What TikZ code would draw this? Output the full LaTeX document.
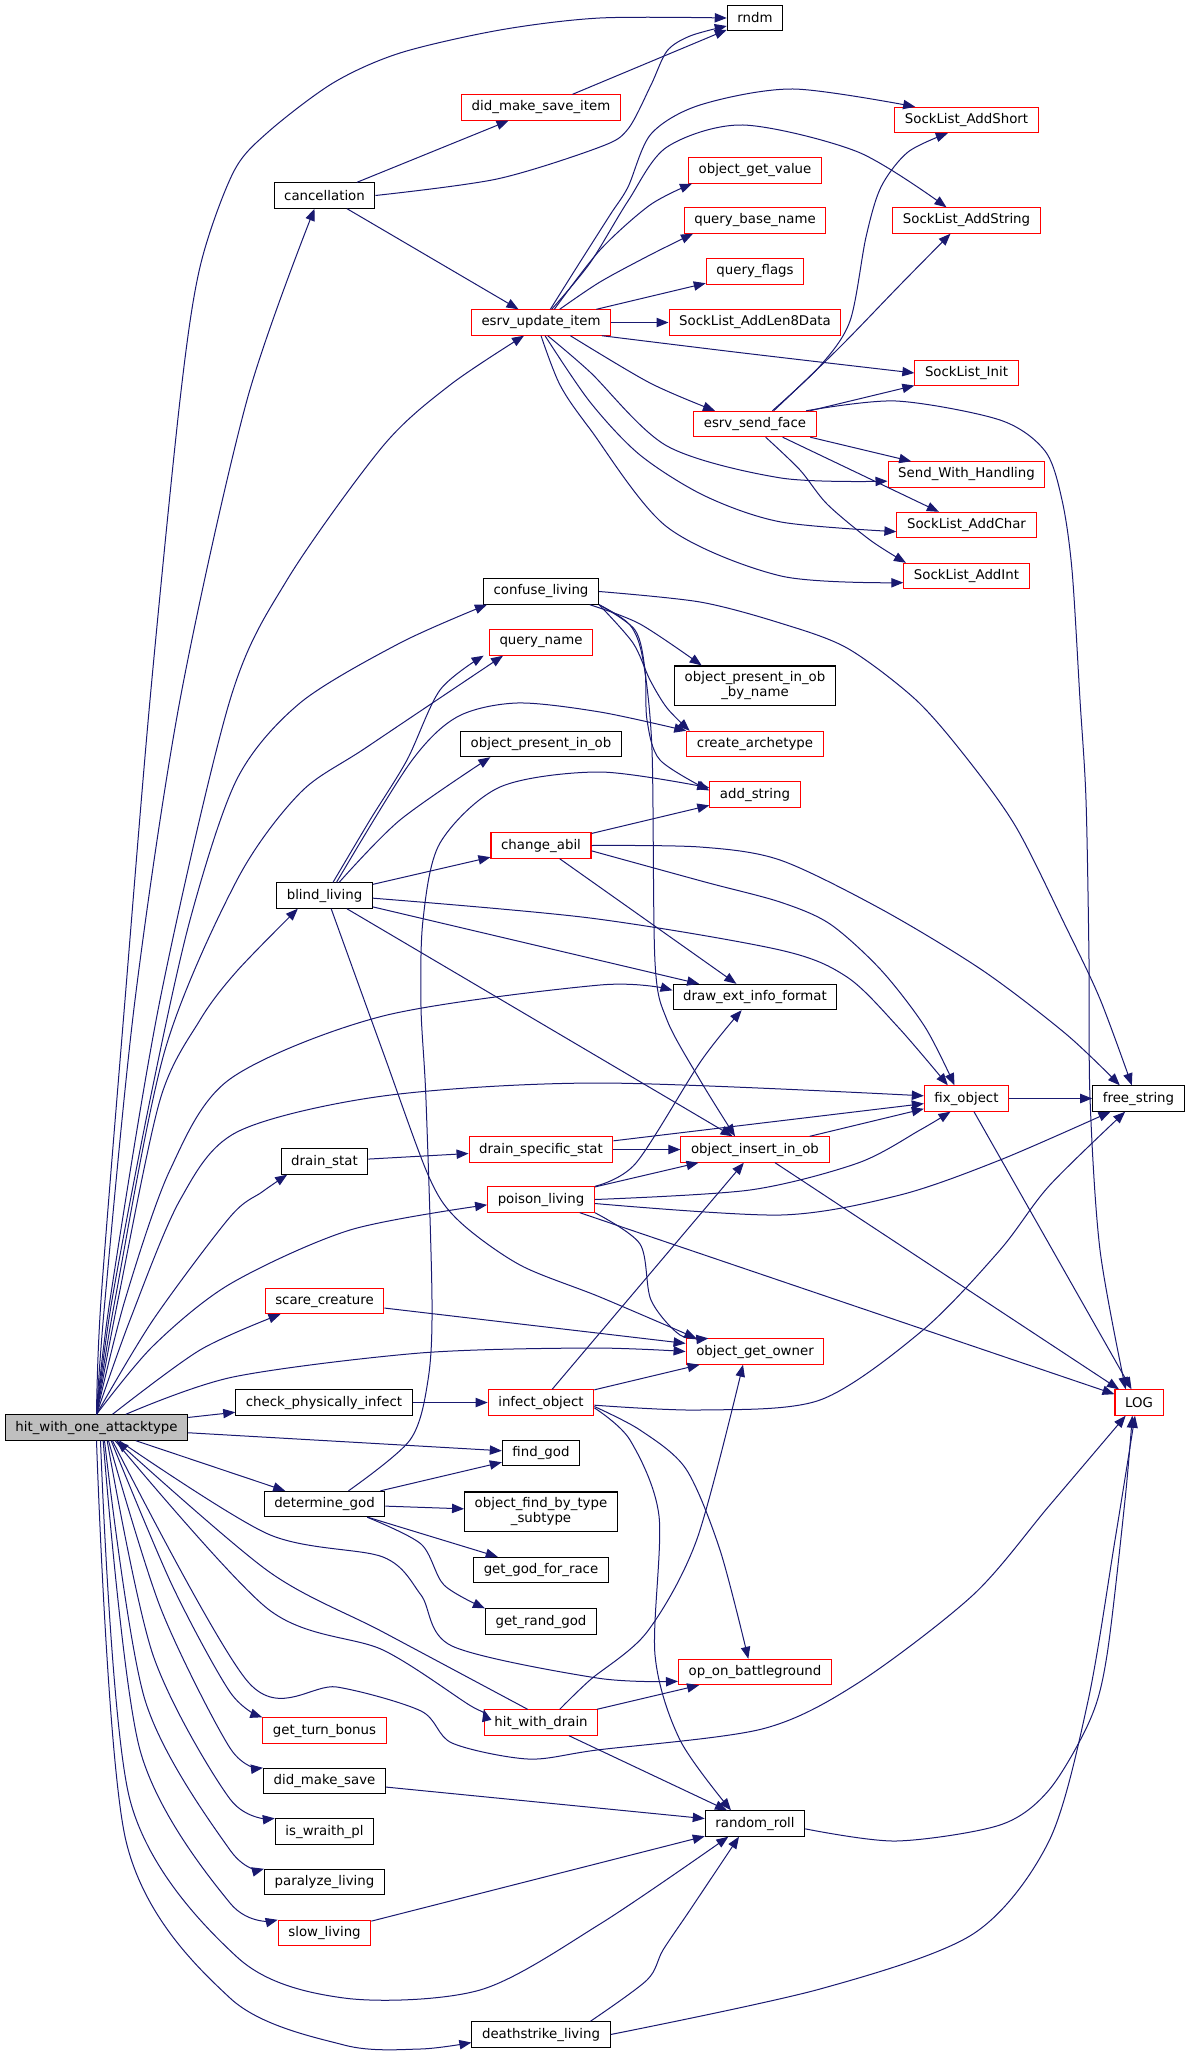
\documentclass[tikz,border=0pt]{standalone}
\usepackage{fontspec}
\setmainfont{DejaVu Sans}
\usepackage{tikz}
\usetikzlibrary{arrows.meta}

\definecolor{edgeblue}{RGB}{25,25,112}
\definecolor{boxred}{RGB}{255,0,0}
\definecolor{rootgray}{RGB}{191,191,191}

\tikzset{
  fnbox/.style={draw=black, line width=0.8pt, minimum height=19pt,
    inner xsep=7.6pt, inner ysep=0pt, align=center,
    font=\fontsize{10}{11}\selectfont},
  fnred/.style={fnbox, draw=boxred},
  fnroot/.style={fnbox, fill=rootgray},
  fntall/.style={fnbox, minimum height=29.3pt},
  call/.style={draw=edgeblue, line width=0.75pt,
    -{Triangle[length=9pt,width=7pt]}},
}

\begin{document}
\begin{tikzpicture}[x=0.75pt, y=-0.75pt]
\useasboundingbox (0,0) rectangle (1189,2058);

% the function itself
\node[fnroot] (H) at (96.5,1427.5) {hit\_with\_one\_attacktype};

% callees, black frame
\foreach \n/\x/\y/\lbl in {rndm/755/18/rndm, canc/324.5/195.5/cancellation,
    confuse/541/591.5/confuse\_living, opio/541/744/object\_present\_in\_ob,
    blind/324.5/895.5/blind\_living, deif/755/997/draw\_ext\_info\_format,
    freestr/1138.5/1098.5/free\_string, drain/324.5/1161.5/drain\_stat,
    cpi/324/1402.5/check\_physically\_infect, findgod/541/1453/find\_god,
    detgod/324.5/1504/determine\_god, ggfr/541/1570/get\_god\_for\_race,
    grg/541/1621.5/get\_rand\_god, dms/324.5/1781/did\_make\_save,
    rroll/755/1823.5/random\_roll, iswraith/324.5/1831.5/is\_wraith\_pl,
    paralyze/324.5/1882/paralyze\_living, death/541/2034.5/deathstrike\_living}
  \node[fnbox] (\n) at (\x,\y) {\lbl};
\node[fntall] (opiobn) at (755,685.5) {object\_present\_in\_ob\\\_by\_name};
\node[fntall] (ofbts) at (541,1511.5) {object\_find\_by\_type\\\_subtype};

% callees, red frame
\foreach \n/\x/\y/\lbl in {dmsi/541/107.5/did\_make\_save\_item,
    slshort/966.5/120/SockList\_AddShort, ogv/755/170.5/object\_get\_value,
    slstring/966.5/220.5/SockList\_AddString, qbn/755/220.5/query\_base\_name,
    qflags/755/271.5/query\_flags, eui/541/322.5/esrv\_update\_item,
    sllen8/755/322.5/SockList\_AddLen8Data, slinit/966.5/373/SockList\_Init,
    esf/755/424/esrv\_send\_face, swh/966.5/474.5/Send\_With\_Handling,
    slchar/966.5/525/SockList\_AddChar, slint/966.5/576/SockList\_AddInt,
    qname/541/642.5/query\_name, carch/755/744/create\_archetype,
    addstr/755/794.5/add\_string, chabil/541/845.5/change\_abil,
    fixobj/966.5/1098.5/fix\_object, dss/541/1149.5/drain\_specific\_stat,
    oiio/755/1149.5/object\_insert\_in\_ob, poison/541/1199.5/poison\_living,
    scare/324.5/1301/scare\_creature, ogo/755/1351.5/object\_get\_owner,
    infect/541/1402.5/infect\_object, logfn/1139/1402.5/LOG,
    opob/755/1672/op\_on\_battleground, hwd/541/1722.5/hit\_with\_drain,
    gtb/324.5/1730.5/get\_turn\_bonus, slow/324.5/1933/slow\_living}
  \node[fnred] (\n) at (\x,\y) {\lbl};

% straight calls
\foreach \a/\b in {canc/dmsi, dmsi/rndm, canc/eui, eui/qflags, eui/sllen8,
    esf/slinit, esf/swh, esf/slchar, H/cpi, H/findgod, H/detgod, cpi/infect,
    blind/chabil, blind/deif, blind/oiio, chabil/addstr, chabil/deif,
    detgod/findgod, detgod/ofbts, detgod/ggfr, infect/oiio, infect/ogo,
    hwd/opob, hwd/rroll, dms/rroll, slow/rroll, fixobj/freestr, fixobj/logfn,
    oiio/fixobj, oiio/logfn, dss/oiio, dss/fixobj, drain/dss, poison/oiio,
    poison/logfn, scare/ogo}
  \draw[call] (\a) -- (\b);

% root, upwards
\draw[call,smooth] plot coordinates {(H.north) (101,1300) (125,1000) (150,700) (180,400) (200,267) (233,173) (267,133) (333,83) (400,53) (500,30) (600,18) (rndm.west)};
\draw[call,smooth] plot coordinates {(H.north) (105,1300) (135,1000) (180,700) (247,400) ([xshift=-7.5pt]canc.south)};
\draw[call,smooth] plot coordinates {(H.north) (110,1300) (160,1000) (230,700) (287,580) (383,446) (450,385) ([xshift=-12.75pt]eui.south)};
\draw[call,smooth] plot coordinates {(H.north) (112,1300) (150,1100) (190,920) (237,779) (300,703) (400,643) ([xshift=3pt]confuse.south west)};
\draw[call,smooth] plot coordinates {(H.north) (115,1300) (165,1050) (237,880) (300,793) (367,747) ([xshift=-28.5pt]qname.south)};
\draw[call,smooth] plot coordinates {(H.north) (118,1300) (160,1100) (200,1020) (237,971) ([xshift=-20pt]blind.south)};
\draw[call,smooth] plot coordinates {(H.north) (125,1300) (170,1170) (230,1079) (383,1016) (600,985) ([yshift=5pt]deif.west)};
\draw[call,smooth] plot coordinates {(H.north) (130,1320) (180,1200) (237,1132) (383,1096) (600,1083) ([yshift=2pt]fixobj.west)};
\draw[call,smooth] plot coordinates {(H.north) (153,1320) (230,1217) (262,1192) ([xshift=-28pt]drain.south)};
\draw[call,smooth] plot coordinates {(H.north) (153,1346) (230,1284) (350,1230) ([yshift=-4pt]poison.west)};
\draw[call,smooth] plot coordinates {([xshift=12pt]H.north) (200,1350) ([xshift=-33pt]scare.south)};
\draw[call,smooth] plot coordinates {([xshift=22pt]H.north) (233,1377) (420,1353) (590,1348) (ogo.west)};

% root, downwards
\draw[call,smooth] plot coordinates {([xshift=17pt]H.south) (268,1534) (383,1557) (421,1595) (452,1646) (597,1678) ([yshift=-7pt]opob.west)};
\draw[call,smooth] plot coordinates {([xshift=14pt]H.south) (268,1609) (383,1650) (471,1706) (hwd.north west)};
\draw[call,smooth] plot coordinates {([xshift=-10pt]hwd.north) (383,1632) (268,1571) ([xshift=15pt]H.south)};
\draw[call,smooth] plot coordinates {([xshift=12pt]H.south) (249,1683) (337,1687) (421,1711) (452,1743) (528,1759) (597,1750) (762,1729) (858,1683) (973,1595) (1049,1506) ([xshift=-10pt]logfn.south)};
\draw[call,smooth] plot coordinates {([xshift=11pt]H.south) (172,1585) (230,1692) (gtb.north west)};
\draw[call,smooth] plot coordinates {([xshift=9pt]H.south) (161,1609) (230,1748) (dms.north west)};
\draw[call,smooth] plot coordinates {([xshift=8pt]H.south) (153,1655) (230,1799) (iswraith.north west)};
\draw[call,smooth] plot coordinates {([xshift=6pt]H.south) (145,1700) (230,1850) (paralyze.north west)};
\draw[call,smooth] plot coordinates {([xshift=5pt]H.south) (140,1750) (230,1903) (slow.north west)};
\draw[call,smooth] plot coordinates {([xshift=3pt]H.south) (130,1800) (237,1957) (344,1998) (480,1990) (600,1924) ([xshift=-20pt]rroll.south)};
\draw[call,smooth] plot coordinates {(H.south) (126,1841) (230,1998) (344,2045) (420,2049) ([yshift=-6pt]death.west)};

% upper part
\draw[call,smooth] plot coordinates {(canc.east) (497,179) (600,147) (628,129) (651,85) (667,51) (690,36) ([yshift=-6pt]rndm.west)};
\draw[call,smooth] plot coordinates {([xshift=7pt]eui.north) (575,270) (610,215) (628,187) (651,134) (700,105) (793,89) ([xshift=-38.5pt]slshort.north)};
\draw[call,smooth] plot coordinates {([xshift=8pt]eui.north) (590,263) (628,201) (667,147) (743,125) (858,152) ([xshift=-15pt]slstring.north)};
\draw[call,smooth] plot coordinates {([xshift=10pt]eui.north) (600,250) (650,205) ([xshift=3pt]ogv.south west)};
\draw[call,smooth] plot coordinates {([xshift=14pt]eui.north) (600,282) (650,255) ([xshift=-46.5pt]qbn.south)};
\draw[call,smooth] plot coordinates {([xshift=-7pt]eui.south east) (743,353) (slinit.west)};
\draw[call,smooth] plot coordinates {([xshift=22pt]eui.south) (650,383) ([xshift=-30pt]esf.north)};
\draw[call,smooth] plot coordinates {([xshift=5pt]eui.south) (590,372) (667,446) (781,478) ([yshift=-5pt]swh.west)};
\draw[call,smooth] plot coordinates {([xshift=3pt]eui.south) (590,402) (640,455) (705,496) (781,522) ([yshift=-5pt]slchar.west)};
\draw[call,smooth] plot coordinates {(eui.south) (560,385) (590,429) (667,527) (781,576) ([yshift=-5pt]slint.west)};
\draw[call,smooth] plot coordinates {([xshift=13pt]esf.north) (820,366) (850,321) (866,237) (881,187) (908,152) ([xshift=-14pt]slshort.south)};
\draw[call,smooth] plot coordinates {([xshift=14pt]esf.north) (839,348) (900,285) ([xshift=-12pt]slstring.south)};
\draw[call,smooth] plot coordinates {([xshift=8pt]esf.south) (800,470) (827,504) (870,540) ([xshift=2pt]slint.north west)};
\draw[call,smooth] plot coordinates {([xshift=-8pt]esf.north east) (896,401) (1000,420) (1045,451) (1062,500) (1072,570) (1080,700) (1086,800) (1089,960) (1090,1098) (1100,1250) ([xshift=-10pt]logfn.north)};

% middle part
\draw[call,smooth] plot coordinates {(confuse.east) (700,602) (780,623) (847,648) (915,699) (965,756) (1016,827) (1066,927) (1100,999) ([xshift=-5pt]freestr.north)};
\draw[call,smooth] plot coordinates {([xshift=-7pt]confuse.south east) (640,624) ([xshift=-40pt]opiobn.north)};
\draw[call,smooth] plot coordinates {(confuse.south east) (633,643) (650,680) (667,708) ([xshift=-49pt]carch.north)};
\draw[call,smooth] plot coordinates {(confuse.south east) (635,630) (645,670) (647,720) (660,760) ([yshift=3pt]addstr.west)};
\draw[call,smooth] plot coordinates {(confuse.south east) (630,625) (643,660) (652,750) (655,962) (667,1020) (700,1080) ([xshift=-15pt]oiio.north)};
\draw[call,smooth] plot coordinates {([xshift=6.4pt]blind.north) (370,820) (407,760) (440,690) ([xshift=-43pt]qname.south)};
\draw[call,smooth] plot coordinates {([xshift=9pt]blind.north) (410,763) (457,717) (517,703) (600,712) (carch.north west)};
\draw[call,smooth] plot coordinates {([xshift=11pt]blind.north) (400,820) ([xshift=-38pt]opio.south)};
\draw[call,smooth] plot coordinates {([xshift=5pt]blind.south) (383,1052) (429,1177) (459,1221) (520,1265) (600,1297) ([xshift=-44pt]ogo.north)};
\draw[call,smooth] plot coordinates {([yshift=-2pt]blind.east) (590,918) (780,950) (847,977) (898,1027) ([xshift=-14pt]fixobj.north)};
\draw[call,smooth] plot coordinates {(chabil.east) (700,847) (780,860) (881,909) (982,970) (1066,1034) ([xshift=-14pt]freestr.north)};
\draw[call,smooth] plot coordinates {([yshift=-4pt]chabil.east) (705,882) (780,902) (830,924) (881,970) (925,1027) ([xshift=-9pt]fixobj.north)};
\draw[call,smooth] plot coordinates {([xshift=18pt]detgod.north) (410,1440) (428,1380) (432,1300) (426,1100) (421,1007) (423,920) (440,843) (500,787) (600,772) ([yshift=5pt]addstr.west)};
\draw[call,smooth] plot coordinates {(poison.north east) (636,1163) (701,1061) ([xshift=-10pt]deif.south)};
\draw[call,smooth] plot coordinates {(poison.east) (750,1190) (858,1163) (920,1130) ([xshift=-12pt]fixobj.south)};
\draw[call,smooth] plot coordinates {([yshift=-3pt]poison.east) (781,1215) (900,1195) (1000,1160) ([xshift=-21pt]freestr.south)};
\draw[call,smooth] plot coordinates {(poison.south east) (640,1244) (651,1300) (680,1335) ([xshift=-35pt]ogo.north)};

% lower part
\draw[call,smooth] plot coordinates {([xshift=32pt]detgod.south) (421,1544) (444,1585) (grg.north west)};
\draw[call,smooth] plot coordinates {([yshift=-2pt]infect.east) (700,1410) (820,1400) (923,1330) (1000,1250) (1049,1186) ([xshift=-10pt]freestr.south)};
\draw[call,smooth] plot coordinates {([yshift=-3pt]infect.east) (640,1430) (686,1469) (720,1550) ([xshift=-5pt]opob.north)};
\draw[call,smooth] plot coordinates {([yshift=-4pt]infect.east) (630,1440) (659,1516) (655,1655) (680,1740) ([xshift=-18pt]rroll.north)};
\draw[call,smooth] plot coordinates {([xshift=14pt]hwd.north) (590,1680) (647,1632) (697,1539) ([xshift=-9pt]ogo.south)};
\draw[call,smooth] plot coordinates {([xshift=37pt]death.north) (647,1980) (663,1950) (690,1910) ([xshift=-12pt]rroll.south)};
\draw[call,smooth] plot coordinates {(death.east) (820,1989) (973,1934) (1049,1841) (1088,1701) (1115,1540) ([xshift=-3pt]logfn.south)};
\draw[call,smooth] plot coordinates {([yshift=-4pt]rroll.east) (896,1841) (1000,1825) (1049,1790) (1090,1720) (1107,1655) (1125,1500) ([xshift=-5pt]logfn.south)};
\end{tikzpicture}
\end{document}
